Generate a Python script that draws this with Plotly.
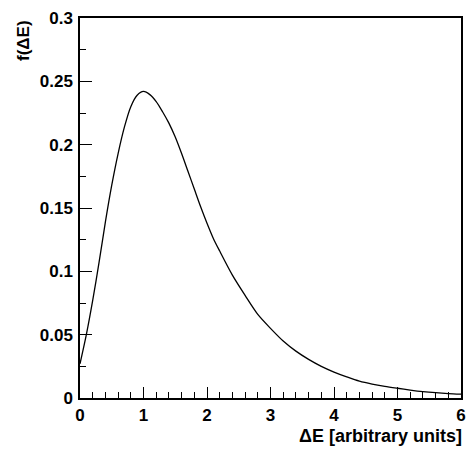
import plotly.graph_objects as go

# Values
delta_e = [0.0, 0.1, 0.2, 0.3, 0.4, 0.5, 0.6, 0.7, 0.8, 0.9, 1.0, 1.1, 1.2, 1.3, 1.4,
           1.5, 1.6, 1.7, 1.8, 1.9, 2.0, 2.1, 2.2, 2.4, 2.6, 2.8, 3.0, 3.2, 3.4, 3.6, 3.8,
           4.0, 4.2, 4.4, 4.6, 4.8, 5.0, 5.2, 5.4, 5.6, 5.8, 6.0]
f_delta_e = [0.027, 0.050, 0.077, 0.107, 0.139, 0.168, 0.193, 0.214, 0.230, 0.239, 0.242,
             0.2395, 0.234, 0.226, 0.217, 0.206, 0.193, 0.179, 0.165, 0.151, 0.138,
             0.126, 0.116, 0.097, 0.081, 0.066, 0.055, 0.045, 0.037, 0.0305, 0.025, 0.0205,
             0.0167, 0.0133, 0.0110, 0.0092, 0.0077, 0.0063, 0.0051, 0.0042, 0.0035, 0.0030]

x_tick_values = [0, 1, 2, 3, 4, 5, 6]
x_tick_labels = ["0", "1", "2", "3", "4", "5", "6"]
y_tick_values = [0, 0.05, 0.1, 0.15, 0.2, 0.25, 0.3]
y_tick_labels = ["0", "0.05", "0.1", "0.15", "0.2", "0.25", "0.3"]

x_title = "ΔE [arbitrary units]"
y_title = "f(ΔE)"

FONT = "Arial"
TF = dict(family=FONT, size=17, color="black", weight=700)
TT = dict(family=FONT, size=18, color="black", weight=700)

fig = go.Figure()
fig.add_trace(go.Scatter(
    x=delta_e, y=f_delta_e, mode="lines",
    line=dict(color="black", width=1.3, shape="spline", smoothing=0.8),
    showlegend=False, hoverinfo="skip",
))

fig.update_layout(
    width=472, height=450,
    margin=dict(l=80, r=6, t=18, b=52),
    paper_bgcolor="white", plot_bgcolor="white",
    showlegend=False,
    font=TF,
)

fig.update_xaxes(
    range=[0, 6],
    tickvals=x_tick_values, ticktext=x_tick_labels,
    showgrid=False, zeroline=False,
    showline=True, linecolor="black", linewidth=1.5, mirror=True,
    ticks="inside", ticklen=11, tickcolor="black", tickwidth=1,
    minor=dict(dtick=0.2, tick0=0, ticks="inside", ticklen=6, tickcolor="black", tickwidth=1, showgrid=False),
    tickfont=TF,
    ticklabelstandoff=1,
)
fig.update_yaxes(
    range=[0, 0.3],
    tickvals=y_tick_values, ticktext=y_tick_labels,
    showgrid=False, zeroline=False,
    showline=True, linecolor="black", linewidth=1.5, mirror=True,
    ticks="inside", ticklen=12, tickcolor="black", tickwidth=1,
    minor=dict(dtick=0.025, tick0=0, ticks="inside", ticklen=6, tickcolor="black", tickwidth=1, showgrid=False),
    tickfont=TF,
    ticklabelstandoff=2,
)

fig.add_annotation(
    text=x_title, xref="paper", yref="paper", x=1.008, y=0,
    xanchor="right", yanchor="top", yshift=-26, showarrow=False,
    font=TT,
)
fig.add_annotation(
    text=y_title, xref="paper", yref="paper", x=0, y=1,
    xanchor="right", yanchor="top", xshift=-45, showarrow=False, textangle=-90,
    font=TF,
)

fig.write_html("out.html")
